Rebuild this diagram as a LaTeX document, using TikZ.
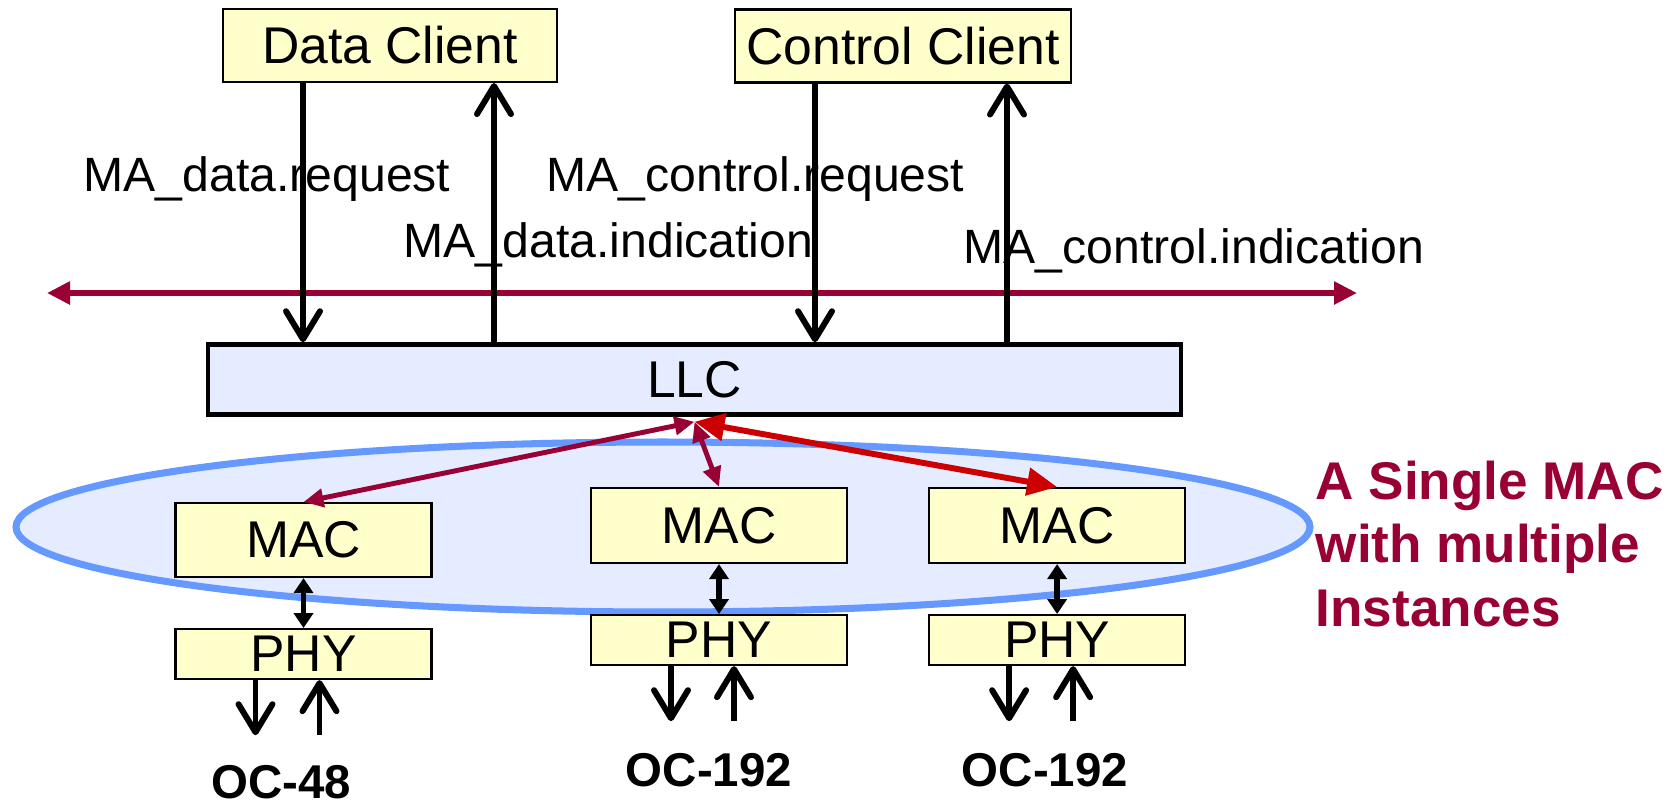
\documentclass[tikz,border=0pt]{standalone}
\usepackage{fontspec}
\setmainfont{Liberation Sans}
\usepackage{tikz}
\usetikzlibrary{positioning, arrows.meta, shapes, calc}
\definecolor{boxcolor}{HTML}{FFFFCC}
\definecolor{llccolor}{HTML}{E6ECFF}
\definecolor{ringcolor}{HTML}{6699FF}
\definecolor{maccolor}{HTML}{990033}
\definecolor{hotcolor}{HTML}{CC0000}

\begin{document}
\begin{tikzpicture}[
    % Node styles
    clientnode/.style={
        rectangle, draw=black, fill=boxcolor, line width=0.6pt,
        minimum width=3.34cm, minimum height=0.73cm, inner sep=0pt,
        font=\fontsize{14.7pt}{17pt}\selectfont
    },
    llcnode/.style={
        rectangle, draw=black, fill=llccolor, line width=1.3pt,
        minimum width=9.73cm, minimum height=0.70cm, inner sep=0pt,
        font=\fontsize{14.7pt}{17pt}\selectfont
    },
    layernode/.style={
        rectangle, draw=black, fill=boxcolor, line width=0.6pt,
        minimum width=2.56cm, inner sep=0pt,
        font=\fontsize{14.7pt}{17pt}\selectfont
    },
    ringnode/.style={
        ellipse, draw=ringcolor, fill=llccolor, line width=2pt,
        minimum width=12.94cm, minimum height=1.70cm, inner sep=0pt
    },
    % Edge styles
    callarrow/.style={
        ->, >={Straight Barb[length=2.8mm, width=3.4mm, round]},
        line width=1.7pt, black
    },
    busarrow/.style={
        <->, >={Triangle[length=2.3mm, width=2.2mm]}, line width=1.6pt, maccolor
    },
    macarrow/.style={
        <->, >={Triangle[length=2mm, width=1.8mm]}, line width=1.4pt, maccolor
    },
    hotarrow/.style={
        <->, >={Triangle[length=3mm, width=2.7mm]}, line width=1.7pt, hotcolor
    },
    linkarrow/.style={
        <->, >={Triangle[length=1.5mm, width=1.9mm]}, line width=1.5pt, black
    },
    % Label styles
    siglabel/.style={
        inner sep=0pt, anchor=base west, font=\fontsize{13.7pt}{16pt}\selectfont
    },
    oclabel/.style={
        inner sep=0pt, anchor=base, font=\fontsize{13.5pt}{16pt}\selectfont\bfseries
    },
    notetext/.style={
        inner sep=0pt, anchor=north west, align=left, text=maccolor,
        font=\fontsize{15.1pt}{18.1pt}\selectfont\bfseries
    }
]
\useasboundingbox (0,0) rectangle (16.8,8.04);

% ============ CLIENTS ============
\node[clientnode] (dataclient) at (3.90, 7.585) {Data Client};
\node[clientnode, minimum width=3.36cm] (ctrlclient) at (9.03, 7.58) {Control Client};

% ============ SERVICE PRIMITIVES ============
\node[siglabel] (datareqlbl) at (0.83, 6.13) {MA\_data.request};
\node[siglabel] (ctrlreqlbl) at (5.46, 6.13) {MA\_control.request};
\node[siglabel] (dataindlbl) at (4.03, 5.47) {MA\_data.indication};
\node[siglabel] (ctrlindlbl) at (9.63, 5.41) {MA\_control.indication};

% Service boundary
\coordinate (busW) at (0.47, 5.11);
\coordinate (busE) at (13.57, 5.11);
\draw[busarrow] (busW) -- (busE);

% ============ LLC ============
\node[llcnode] (llc) at (6.945, 4.245) {LLC};

\coordinate (datareq) at ([xshift=-8.7mm]dataclient.south);
\coordinate (dataind) at ([xshift=10.4mm]dataclient.south);
\coordinate (ctrlreq) at ([xshift=-8.8mm]ctrlclient.south);
\coordinate (ctrlind) at ([xshift=10.4mm]ctrlclient.south);
\draw[callarrow] (datareq) -- (datareq |- llc.north);
\draw[callarrow] (dataind |- llc.north) -- (dataind);
\draw[callarrow] (ctrlreq) -- (ctrlreq |- llc.north);
\draw[callarrow] (ctrlind |- llc.north) -- (ctrlind);

% ============ MAC INSTANCES ============
\node[ringnode] (macring) at (6.63, 2.77) {};

\node[layernode, minimum height=0.74cm] (mac1) at (3.035, 2.64) {MAC};
\node[layernode, minimum height=0.75cm] (mac2) at (7.19, 2.785) {MAC};
\node[layernode, minimum height=0.75cm, right=0.8cm of mac2] (mac3) {MAC};

\node[layernode, minimum height=0.50cm, below=0.5cm of mac1] (phy1) {PHY};
\node[layernode, minimum height=0.50cm, below=0.5cm of mac2] (phy2) {PHY};
\node[layernode, minimum height=0.50cm, below=0.5cm of mac3] (phy3) {PHY};

\node[notetext] (ringnote) at (13.15, 3.44) {A Single MAC\\with multiple\\Instances};

% ============ EDGES ============
% LLC to MACs
\coordinate (llchub) at ([yshift=-0.5mm]llc.south);
\draw[macarrow] (llchub) -- (mac1.north);
\draw[macarrow] (llchub) -- (mac2.north);
\draw[hotarrow] (llchub) -- (mac3.north);

% MAC to PHY
\draw[linkarrow] (mac1.south) -- (phy1.north);
\draw[linkarrow] (mac2.south) -- (phy2.north);
\draw[linkarrow] (mac3.south) -- (phy3.north);

% PHY to line
\coordinate (tx1) at ([xshift=-4.8mm, yshift=-5.5mm]phy1.south);
\coordinate (rx1) at ([xshift=1.6mm, yshift=-5.5mm]phy1.south);
\coordinate (tx2) at ([xshift=-4.8mm, yshift=-5.5mm]phy2.south);
\coordinate (rx2) at ([xshift=1.5mm, yshift=-5.5mm]phy2.south);
\coordinate (tx3) at ([xshift=-4.8mm, yshift=-5.5mm]phy3.south);
\coordinate (rx3) at ([xshift=1.6mm, yshift=-5.5mm]phy3.south);
\draw[callarrow] (tx1 |- phy1.south) -- (tx1);
\draw[callarrow] (rx1) -- (rx1 |- phy1.south);
\draw[callarrow] (tx2 |- phy2.south) -- (tx2);
\draw[callarrow] (rx2) -- (rx2 |- phy2.south);
\draw[callarrow] (tx3 |- phy3.south) -- (tx3);
\draw[callarrow] (rx3) -- (rx3 |- phy3.south);

% ============ LINE RATES ============
\node[oclabel] (oc48) at (2.81, 0.06) {OC-48};
\node[oclabel] (oc192a) at (7.09, 0.18) {OC-192};
\node[oclabel] (oc192b) at (10.45, 0.18) {OC-192};

\end{tikzpicture}
\end{document}
